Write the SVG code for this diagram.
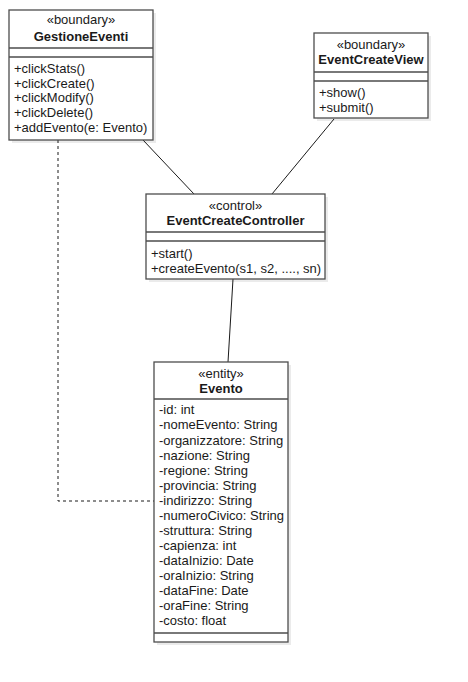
<svg xmlns="http://www.w3.org/2000/svg" width="468" height="682" viewBox="0 0 468 682">
<style>
.box{fill:#fff;stroke:#4d4d4d;stroke-width:1.3}
.sh{fill:#000;fill-opacity:0.08}
.sep{stroke:#4d4d4d;stroke-width:1.3}
text{font-family:"Liberation Sans",Arial,sans-serif;font-size:13px;fill:#1a1a1a}
.c{text-anchor:middle}
.b{font-weight:bold}
.ln{stroke:#1a1a1a;stroke-width:1;fill:none}
</style>
<rect width="468" height="682" fill="#fff"/>
<g id="connectors">
<line class="ln" x1="143" y1="140" x2="194" y2="194"/>
<line class="ln" x1="334" y1="119" x2="272" y2="194"/>
<line class="ln" x1="233" y1="279" x2="228" y2="362"/>
<polyline class="ln" points="58,140 58,501 154,501" stroke-dasharray="3,3" stroke="#555"/>
</g>
<g id="GestioneEventi">
<rect class="sh" x="12" y="13" width="144" height="130"/>
<rect class="box" x="9" y="10" width="144" height="130"/>
<line class="sep" x1="9" y1="48" x2="153" y2="48"/>
<line class="sep" x1="9" y1="57" x2="153" y2="57"/>
<text class="c" x="81" y="24">«boundary»</text>
<text class="c b" x="81" y="41">GestioneEventi</text>
<text x="14" y="73">+clickStats()</text>
<text x="14" y="88">+clickCreate()</text>
<text x="14" y="102">+clickModify()</text>
<text x="14" y="117">+clickDelete()</text>
<text x="14" y="132">+addEvento(e: Evento)</text>
</g>
<g id="EventCreateView">
<rect class="sh" x="317" y="36" width="114" height="85"/>
<rect class="box" x="314" y="33" width="114" height="85"/>
<line class="sep" x1="314" y1="72" x2="428" y2="72"/>
<line class="sep" x1="314" y1="81" x2="428" y2="81"/>
<text class="c" x="371" y="49">«boundary»</text>
<text class="c b" x="371" y="64">EventCreateView</text>
<text x="319" y="97">+show()</text>
<text x="319" y="112">+submit()</text>
</g>
<g id="EventCreateController">
<rect class="sh" x="149" y="197" width="179" height="85"/>
<rect class="box" x="146" y="194" width="179" height="85"/>
<line class="sep" x1="146" y1="232" x2="325" y2="232"/>
<line class="sep" x1="146" y1="241" x2="325" y2="241"/>
<text class="c" x="235.5" y="210">«control»</text>
<text class="c b" x="235.5" y="225">EventCreateController</text>
<text x="151" y="258">+start()</text>
<text x="151" y="273">+createEvento(s1, s2, ...., sn)</text>
</g>
<g id="Evento">
<rect class="sh" x="157" y="365" width="134" height="280"/>
<rect class="box" x="154" y="362" width="134" height="280"/>
<line class="sep" x1="154" y1="399" x2="288" y2="399"/>
<line class="sep" x1="154" y1="633" x2="288" y2="633"/>
<text class="c" x="221" y="378">«entity»</text>
<text class="c b" x="221" y="393">Evento</text>
<text x="159" y="414">-id: int</text>
<text x="159" y="429">-nomeEvento: String</text>
<text x="159" y="445">-organizzatore: String</text>
<text x="159" y="460">-nazione: String</text>
<text x="159" y="475">-regione: String</text>
<text x="159" y="490">-provincia: String</text>
<text x="159" y="505">-indirizzo: String</text>
<text x="159" y="520">-numeroCivico: String</text>
<text x="159" y="535">-struttura: String</text>
<text x="159" y="550">-capienza: int</text>
<text x="159" y="565">-dataInizio: Date</text>
<text x="159" y="580">-oraInizio: String</text>
<text x="159" y="595">-dataFine: Date</text>
<text x="159" y="610">-oraFine: String</text>
<text x="159" y="625">-costo: float</text>
</g>
</svg>
